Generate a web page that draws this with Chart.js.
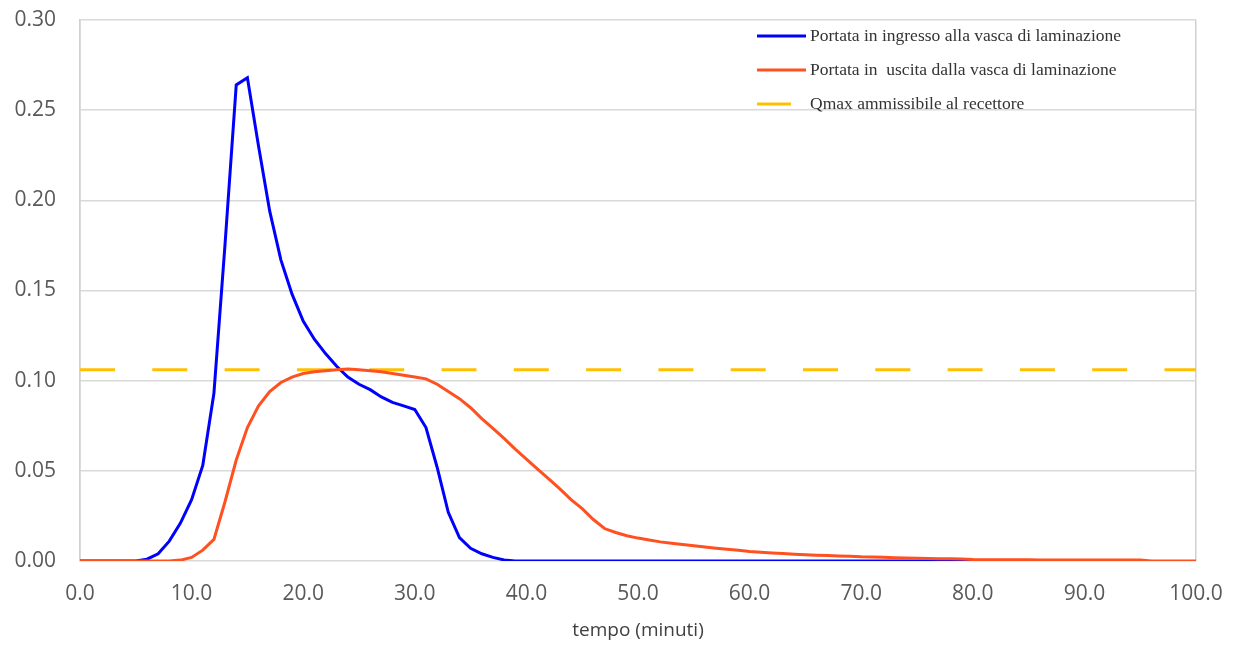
<!DOCTYPE html>
<html>
<head>
<meta charset="utf-8">
<script src="https://cdn.jsdelivr.net/npm/chart.js@4"></script>
<style>
  body { margin: 0; background: #fff; }
  #wrap { width: 1238px; height: 646px; }
</style>
</head>
<body>
<div id="wrap"><canvas id="portataChart"></canvas></div>
<script>
// minuti 0..100
const minuti = [];
for (let i = 0; i <= 100; i++) minuti.push(i);

// portata in ingresso (0..95 min)
const portataIngresso = [
  0, 0, 0, 0, 0, 0, 0.001, 0.004, 0.011, 0.021,
  0.034, 0.053, 0.093, 0.176, 0.264, 0.268, 0.230, 0.194, 0.167, 0.148,
  0.133, 0.123, 0.115, 0.108, 0.102, 0.098, 0.095, 0.091, 0.088, 0.086,
  0.084, 0.074, 0.052, 0.027, 0.013, 0.007, 0.004, 0.002, 0.0006, 0,
  0, 0, 0, 0, 0, 0, 0, 0, 0, 0,
  0, 0, 0, 0, 0, 0, 0, 0, 0, 0,
  0, 0, 0, 0, 0, 0, 0, 0, 0, 0,
  0, 0, 0, 0, 0, 0, 0, 0, 0, 0,
  0, 0, 0, 0, 0, 0, 0, 0, 0, 0,
  0, 0, 0, 0, 0, 0
];

// portata in uscita (0..100 min)
const portataUscita = [
  0, 0, 0, 0, 0, 0, 0, 0, 0, 0.0005,
  0.002, 0.006, 0.012, 0.033, 0.056, 0.074, 0.086, 0.094, 0.099, 0.102,
  0.104, 0.105, 0.1055, 0.106, 0.1065, 0.106, 0.1055, 0.105, 0.104, 0.103,
  0.102, 0.101, 0.098, 0.094, 0.090, 0.085, 0.079, 0.0735, 0.068, 0.062,
  0.0565, 0.051, 0.0455, 0.040, 0.034, 0.029, 0.023, 0.018, 0.0158, 0.014,
  0.0127, 0.0116, 0.0106, 0.0098, 0.0091, 0.0084, 0.0077, 0.0071, 0.0065, 0.0059,
  0.0053, 0.0049, 0.0045, 0.0042, 0.0038, 0.0035, 0.0032, 0.003, 0.0028, 0.0026,
  0.0023, 0.0022, 0.0021, 0.0018, 0.0016, 0.0015, 0.0014, 0.0013, 0.0012, 0.0011,
  0.0008, 0.0007, 0.0007, 0.0007, 0.0007, 0.0007, 0.0006, 0.0006, 0.0006, 0.0006,
  0.0006, 0.0005, 0.0005, 0.0005, 0.0005, 0.0005, 0, 0, 0, 0,
  0
];

const qmax = 0.106;
const qmaxRange = [0, 100];

const yTicks = [0, 0.05, 0.10, 0.15, 0.20, 0.25, 0.30];

const labels = [
  'Portata in ingresso alla vasca di laminazione',
  'Portata in  uscita dalla vasca di laminazione',
  'Qmax ammissibile al recettore'
];

const toPoints = (xs, ys) => ys.map((v, i) => ({ x: xs[i], y: v }));

// legenda disegnata a mano dentro l'area del grafico
const legendaPlugin = {
  id: 'legenda',
  afterDraw(chart) {
    const c = chart.ctx;
    const rows = [36, 70, 104];
    c.save();
    c.font = '17.5px "Liberation Serif", serif';
    c.textBaseline = 'middle';
    chart.data.datasets.forEach((ds) => {
      const y = rows[ds.legendRow];
      c.strokeStyle = ds.borderColor;
      c.lineWidth = 3;
      c.beginPath();
      c.moveTo(757, y);
      c.lineTo(ds.legendRow === 2 ? 791 : 806, y);
      c.stroke();
      c.fillStyle = '#333';
      c.fillText(ds.label, 810, y);
    });
    c.restore();
  }
};

const ctx = document.getElementById('portataChart');

new Chart(ctx, {
  type: 'line',
  data: {
    datasets: [
      {
        label: labels[1],
        legendRow: 1,
        data: toPoints(minuti, portataUscita),
        borderColor: '#ff5020',
        borderWidth: 3,
        pointRadius: 0,
        tension: 0,
        order: 1
      },
      {
        label: labels[0],
        legendRow: 0,
        data: toPoints(minuti, portataIngresso),
        borderColor: '#0000ff',
        borderWidth: 3,
        pointRadius: 0,
        tension: 0,
        order: 2
      },
      {
        label: labels[2],
        legendRow: 2,
        data: qmaxRange.map(x => ({ x: x, y: qmax })),
        borderColor: '#ffc000',
        borderWidth: 3,
        borderDash: [35, 37.3],
        pointRadius: 0,
        order: 3
      }
    ]
  },
  options: {
    responsive: true,
    maintainAspectRatio: false,
    animation: false,
    layout: { padding: { top: 20, right: 42, left: 0, bottom: 0 } },
    plugins: {
      legend: { display: false },
      tooltip: { enabled: false }
    },
    scales: {
      x: {
        type: 'linear',
        min: 0,
        max: 100,
        afterFit: (s) => { s.height = 85; s.paddingLeft = 0; s.paddingRight = 0; },
        ticks: {
          stepSize: 10,
          padding: 20,
          color: '#595959',
          font: { family: 'Open Sans', size: 21 },
          callback: (v) => v.toFixed(1),
          maxRotation: 0
        },
        grid: {
          drawTicks: false,
          lineWidth: 1.5,
          color: (c) => (c.tick && (c.tick.value === 0 || c.tick.value === 100)) ? '#d0d0d0' : 'rgba(0,0,0,0)'
        },
        border: { display: false },
        title: {
          display: true,
          text: 'tempo (minuti)',
          color: '#404040',
          font: { family: 'Open Sans', size: 19 },
          padding: { top: 0, bottom: 4 }
        }
      },
      y: {
        min: 0,
        max: 0.30,
        afterFit: (s) => { s.width = 80; s.paddingTop = 0; s.paddingBottom = 0; },
        afterBuildTicks: (s) => { s.ticks = yTicks.map(v => ({ value: v })); },
        ticks: {
          padding: 24,
          color: '#595959',
          font: { family: 'Open Sans', size: 21 },
          callback: (v) => v.toFixed(2)
        },
        grid: {
          drawTicks: false,
          lineWidth: 1.5,
          color: '#d9d9d9'
        },
        border: { display: true, color: '#d0d0d0', width: 1.5 }
      }
    }
  },
  plugins: [legendaPlugin]
});
</script>
</body>
</html>
